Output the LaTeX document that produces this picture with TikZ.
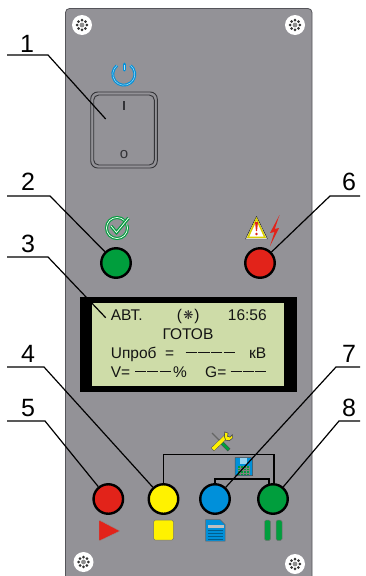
\documentclass[tikz,border=0pt]{standalone}
\usepackage{fontspec}
\setmainfont{Liberation Sans}
\newfontfamily\symfont{DejaVu Sans}
\definecolor{panelc}{HTML}{939297}
\definecolor{panele}{HTML}{55555A}
\definecolor{lcdc}{HTML}{CEDCA8}
\definecolor{redc}{HTML}{E2231A}
\definecolor{yelc}{HTML}{FFF200}
\definecolor{bluc}{HTML}{0090DA}
\definecolor{grnc}{HTML}{009E3D}
\definecolor{swc}{HTML}{333337}
\tikzset{
  leader/.style={draw=black,line width=1.2pt},
  wire/.style={draw=black,line width=1.3pt},
  num/.style={font=\fontsize{25}{25}\selectfont,anchor=base,inner sep=0pt,text=black},
  lcdt/.style={font=\fontsize{15.5}{15.5}\selectfont,anchor=base west,inner sep=0pt,text=black!92},
  btn/.style={circle,draw=black,line width=2.4pt,minimum size=29.5pt,inner sep=0pt},
  dashln/.style={draw=black!92,line width=1.4pt},
  screw/.pic={
    \fill[white] (0,0) circle (10);
    \foreach \a in {0,45,...,315}{\fill[black!80] (\a:4.8) circle (1.5);}
    \fill[black!45] (0,0) circle (2.4);
  }
}
\begin{document}
\begin{tikzpicture}[x=1pt,y=-1pt]
\useasboundingbox (0,0) rectangle (366,576);
\fill[white] (0,0) rectangle (366,576);
% panel
\path[fill=panelc,draw=panele,line width=0.8pt,rounded corners=4pt] (65.5,576.5) -- (65.5,8.5) -- (312,8.5) -- (312,576.5);
\pic at (82,25) {screw};
\pic at (295,25) {screw};
\pic at (83.5,562) {screw};
\pic at (295,564) {screw};
% switch
\draw[swc,line width=0.9pt,rounded corners=7pt] (90.7,92) rectangle (157.3,168);
\draw[swc,line width=0.9pt,rounded corners=5pt] (93.7,95) rectangle (154.3,165);
\draw[swc,line width=1.2pt] (124,101) -- (124,110);
\node[inner sep=0pt,font=\fontsize{15}{15}\selectfont,text=swc] (swO) at (124,154.5) {o};
\coordinate (swpt) at (105.7,119);
% power icon
\draw[bluc,line width=3pt,line cap=round] (124,64) -- (124,70);
\draw[bluc,line width=2.8pt] (117,65.5) arc[start angle=232,end angle=-52,radius=11];
\draw[white!70!bluc,line width=.5pt] (124,64.5) -- (124,69.5);
\draw[white!70!bluc,line width=.5pt] (117,65.5) arc[start angle=232,end angle=-52,radius=11];
% check icon
\draw[grnc,line width=3pt] (117,228) circle (10.5);
\draw[white,line width=.7pt] (117,228) circle (10.5);
\fill[panelc] (123.5,215) -- (131,215) -- (131,224.5) -- (126.5,224.5) -- cycle;
\draw[grnc,line join=miter,line width=3.2pt] (111,226) -- (116.5,232.5) -- (128.5,218);
\draw[white,line width=.7pt] (111,226) -- (116.5,232.5) -- (128.5,218);
% warning
\path[fill=white,draw=black,line width=.4pt] (256.5,216.5) -- (245.5,239) -- (267.5,239) -- cycle;
\path[draw=yelc!85!black,line width=1.6pt,line join=miter] (256.5,219) -- (248,237.3) -- (265,237.3) -- cycle;
\fill[redc] (255,222) -- (258,222) -- (257,231) -- (256,231) -- cycle;
\fill[redc] (256.5,234) circle (1.4);
% lightning
\fill[redc] (279.5,215) -- (270,233) -- (274.5,232) -- (270,246) -- (279,228) -- (274.8,229) -- cycle;
% LCD
\fill[black] (79.7,297.3) rectangle (296.7,391.7);
\fill[lcdc] (92.3,303.3) rectangle (284.3,385.7);
\node[lcdt] (tavt) at (110.7,320.3) {АВТ.};
\node[lcdt,anchor=base] (tpl) at (179.5,320.3) {(};
\node[lcdt,anchor=base] (tpr) at (197,320.3) {)};
\node[inner sep=0pt,font=\symfont\fontsize{12}{12}\selectfont,text=black!85] (tst) at (188.5,315.3) {❋};
\node[lcdt] (ttime) at (227.7,320.3) {16:56};
\node[lcdt,anchor=base] (tgot) at (188,339) {ГОТОВ};
\node[lcdt] (tu) at (110.7,358) {Uпроб};
\node[lcdt,anchor=base] (teq) at (169.7,358) {=};
\node[lcdt] (tkv) at (249,358) {кВ};
\node[lcdt] (tv) at (110.7,377) {V=};
\node[lcdt] (tpc) at (173,377) {\%};
\node[lcdt] (tg) at (205,377) {G=};
\foreach \x in {185.5,198.3,211.1,223.9}{\draw[dashln] (\x,352.5) -- ++(11.2,0);}
\foreach \x in {135,147.3,159.6}{\draw[dashln] (\x,371.5) -- ++(11,0);}
\foreach \x in {230.7,243,255.3}{\draw[dashln] (\x,371.5) -- ++(11,0);}
\coordinate (lcdpt) at (105.7,317.7);
% buttons
\node[btn,fill=grnc] (b2) at (116,263) {};
\node[btn,fill=redc] (b6) at (260,263) {};
\node[btn,fill=redc] (b5) at (108.3,499) {};
\node[btn,fill=yelc] (b4) at (163.5,499) {};
\node[btn,fill=bluc] (b7) at (215,499) {};
\node[btn,fill=grnc] (b8) at (273,499) {};
% wires
\draw[wire] (b4.north) -- (163.5,454.5) -- (274,454.5) -- (274,484);
\draw[wire] (b7.north) -- (215,479) -- (269,479) -- (269,485);
% tools icon
\draw[black!60,line width=1.4pt] (212,433) -- (222,443);
\draw[black!70,line width=3.6pt] (222,443) -- (229,450);
\draw[grnc,line width=2.8pt] (222.3,443.3) -- (228.7,449.7);
\draw[black!70,line width=4.4pt] (212.5,449.5) -- (226,436.5);
\draw[yelc,line width=3.6pt] (212.8,449.2) -- (226,436.5);
\fill[black!70] (224.5,431.5) -- (228.5,433) -- (227.8,436) -- (230,436.8) -- (232.5,434) -- (233,438) -- (229.5,441) -- (225.5,440.5) -- (224,436.5) -- cycle;
\fill[yelc] (225.3,432.5) -- (227.7,433.5) -- (227,436.7) -- (230.3,437.6) -- (232.2,435.7) -- (232.3,437.7) -- (229.2,440.2) -- (226,439.8) -- (224.8,436.5) -- cycle;
% floppy
\path[fill=bluc,draw=black!70,line width=.5pt] (235,457.5) -- (251,457.5) -- (252.5,459) -- (252.5,475.5) -- (235,475.5) -- cycle;
\fill[white!60!bluc] (240,457.8) rectangle (247,464);
\fill[grnc] (237.5,465.5) rectangle (250,475.3);
\foreach \x in {240,243,246,249}{\draw[black!50,line width=.3pt] (\x,465.5) -- (\x,475.3);}
\foreach \y in {468,470.5,473}{\draw[black!50,line width=.3pt] (237.5,\y) -- (250,\y);}
% leaders
\draw[leader] (7,55) -- (48,55) -- (swpt);
\draw[leader] (7,196) -- (50,196) -- (b2);
\draw[leader] (7,257) -- (48,257) -- (lcdpt);
\draw[leader] (7,367) -- (44,367) -- (b4);
\draw[leader] (7,421) -- (45,421) -- (b5);
\draw[leader] (360,196) -- (330,196) -- (b6);
\draw[leader] (360,367) -- (336,367) -- (b7);
\draw[leader] (360,421) -- (339,421) -- (b8);
% numbers
\node[num] (n1) at (27,52) {1};
\node[num] (n2) at (28,190) {2};
\node[num] (n3) at (28,252) {3};
\node[num] (n4) at (28,362) {4};
\node[num] (n5) at (28,416) {5};
\node[num] (n6) at (349,190) {6};
\node[num] (n7) at (349,362) {7};
\node[num] (n8) at (349,416) {8};
% bottom icons
\path[fill=redc,draw=black!45,line width=.4pt,rounded corners=.8pt] (99,520) -- (120,531) -- (99,541) -- cycle;
\path[fill=yelc,draw=black!55,line width=.5pt,rounded corners=1.5pt] (153.5,520.2) rectangle (173.5,540);
\path[fill=bluc,draw=black!60,line width=.5pt] (205.7,519.5) -- (220,519.5) -- (225,524.5) -- (225,541) -- (205.7,541) -- cycle;
\fill[white!75!black] (207.5,525) rectangle (223.5,527.5);
\foreach \y in {530,533,536,539}{\draw[black!35!bluc,line width=.4pt] (208,\y) -- (223,\y);}
\path[fill=grnc,draw=black!55,line width=.5pt,rounded corners=1.5pt] (264.5,520) rectangle (270.5,540.5);
\path[fill=grnc,draw=black!55,line width=.5pt,rounded corners=1.5pt] (276,520) rectangle (282,540.5);
\end{tikzpicture}
\end{document}
